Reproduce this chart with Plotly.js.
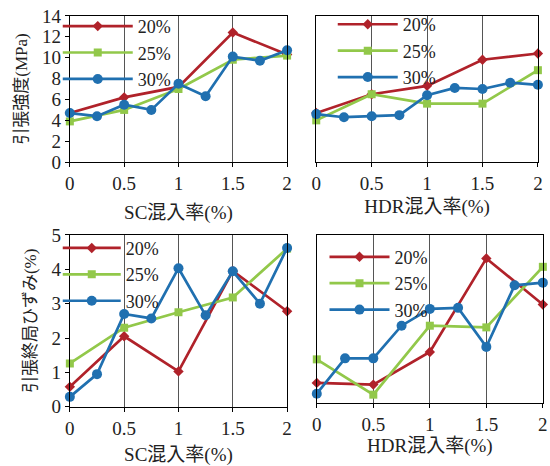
<!DOCTYPE html>
<html>
<head>
<meta charset="utf-8">
<script src="https://cdn.plot.ly/plotly-3.0.1.min.js"></script>
<style>html,body{margin:0;padding:0;background:#fff;}#chart{width:550px;height:466px;}</style>
</head>
<body>
<div id="chart"></div>
<script>
// Mix ratios (%)
const xCoarse = [0, 0.5, 1, 1.5, 2];
const xFine = [0, 0.25, 0.5, 0.75, 1, 1.25, 1.5, 1.75, 2];
const seriesNames = ["20%", "25%", "30%"];

// Tensile strength (MPa) vs SC ratio
const strengthSC_20 = [4.7, 6.2, 7.2, 12.4, 10.3];
const strengthSC_25 = [3.9, 5.0, 7.0, 9.8, 10.2];
const strengthSC_30 = [4.7, 4.4, 5.5, 5.0, 7.5, 6.3, 10.1, 9.7, 10.7];

// Tensile strength (MPa) vs HDR ratio
const strengthHDR_20 = [4.7, 6.5, 7.3, 9.8, 10.4];
const strengthHDR_25 = [4.0, 6.5, 5.6, 5.6, 8.8];
const strengthHDR_30 = [4.6, 4.3, 4.4, 4.5, 6.4, 7.1, 7.0, 7.6, 7.4];

// Ultimate tensile strain (%) vs SC ratio
const strainSC_20 = [0.58, 2.05, 1.03, 3.95, 2.78];
const strainSC_25 = [1.26, 2.3, 2.75, 3.18, 4.6];
const strainSC_30 = [0.29, 0.95, 2.7, 2.57, 4.03, 2.66, 3.94, 3.0, 4.62];

// Ultimate tensile strain (%) vs HDR ratio
const strainHDR_20 = [0.6, 0.55, 1.52, 4.3, 2.93];
const strainHDR_25 = [1.3, 0.25, 2.3, 2.25, 4.05];
const strainHDR_30 = [0.28, 1.33, 1.33, 2.3, 2.8, 2.83, 1.67, 3.5, 3.58];

const colors = ["#b0222a", "#92c84a", "#2070b0"];
const symbols = ["diamond", "square", "circle"];
const msizes = [8, 8, 10];

function mk(x, y, i, xa, ya, leg) {
  return {
    x: x, y: y, name: seriesNames[i], type: "scatter", mode: "lines+markers",
    xaxis: xa, yaxis: ya, legend: leg, cliponaxis: false,
    line: {color: colors[i], width: 2.7},
    marker: {symbol: symbols[i], size: msizes[i], color: colors[i]}
  };
}

const data = [
  mk(xCoarse, strengthSC_20, 0, "x", "y", "legend"),
  mk(xCoarse, strengthSC_25, 1, "x", "y", "legend"),
  mk(xFine, strengthSC_30, 2, "x", "y", "legend"),
  mk(xCoarse, strengthHDR_20, 0, "x2", "y2", "legend2"),
  mk(xCoarse, strengthHDR_25, 1, "x2", "y2", "legend2"),
  mk(xFine, strengthHDR_30, 2, "x2", "y2", "legend2"),
  mk(xCoarse, strainSC_20, 0, "x3", "y3", "legend3"),
  mk(xCoarse, strainSC_25, 1, "x3", "y3", "legend3"),
  mk(xFine, strainSC_30, 2, "x3", "y3", "legend3"),
  mk(xCoarse, strainHDR_20, 0, "x4", "y4", "legend4"),
  mk(xCoarse, strainHDR_25, 1, "x4", "y4", "legend4"),
  mk(xFine, strainHDR_30, 2, "x4", "y4", "legend4")
];

const SERIF = "Liberation Serif";
const FONT = "Liberation Serif, Noto Sans CJK JP";
const tickFont = {family: SERIF, size: 19, color: "#222"};
const xTitleFont = {family: FONT, size: 19, color: "#222"};
const yTitleFont = {family: FONT, size: 17, color: "#222"};

function xax(domain, anchor, title, standoff) {
  return {
    domain: domain, anchor: anchor, range: [0, 2], dtick: 0.5, tick0: 0,
    showgrid: true, gridcolor: "#555", gridwidth: 1, zeroline: false,
    showline: true, linecolor: "#000", linewidth: 1, mirror: true,
    ticks: "outside", ticklen: 4, tickcolor: "#000",
    tickfont: tickFont,
    title: {text: title, font: xTitleFont, standoff: standoff}
  };
}
function yax(domain, anchor, range, dtick, showlabels, title) {
  return {
    domain: domain, anchor: anchor, range: range, dtick: dtick, tick0: 0,
    showgrid: false, zeroline: false,
    showline: true, linecolor: "#000", linewidth: 1, mirror: true,
    ticks: showlabels ? "outside" : "", ticklen: 4, tickcolor: "#000",
    showticklabels: showlabels,
    tickfont: tickFont,
    title: {text: title || "", font: yTitleFont, standoff: 10}
  };
}
function leg(x, y, w) {
  return {
    x: x, y: y, xanchor: "left", yanchor: "top",
    bgcolor: "rgba(0,0,0,0)", borderwidth: 0,
    font: {family: SERIF, size: 18, color: "#222"},
    itemwidth: w, tracegroupgap: 0, traceorder: "normal"
  };
}

const layout = {
  width: 550, height: 466,
  margin: {l: 0, r: 0, t: 0, b: 0},
  paper_bgcolor: "#fff", plot_bgcolor: "#fff",
  showlegend: true,
  xaxis: xax([0.127, 0.522], "y", "SC混入率(%)", 12),
  yaxis: yax([0.652, 0.966], "x", [0, 14], 2, true, "引張強度(MPa)"),
  xaxis2: xax([0.575, 0.978], "y2", "HDR混入率(%)", 6),
  yaxis2: yax([0.652, 0.966], "x2", [0, 14], 2, false),
  xaxis3: xax([0.127, 0.522], "y3", "SC混入率(%)", 10),
  yaxis3: yax([0.127, 0.496], "x3", [0, 5], 1, true, "引張終局ひずみ(%)"),
  xaxis4: xax([0.576, 0.987], "y4", "HDR混入率(%)", 0),
  yaxis4: yax([0.135, 0.496], "x4", [0, 5], 1, false),
  legend: leg(0.105, 0.983, 70),
  legend2: leg(0.605, 0.987, 60),
  legend3: leg(0.105, 0.507, 58),
  legend4: leg(0.59, 0.488, 60)
};

Plotly.newPlot("chart", data, layout, {displayModeBar: false, staticPlot: true});
</script>
</body>
</html>
